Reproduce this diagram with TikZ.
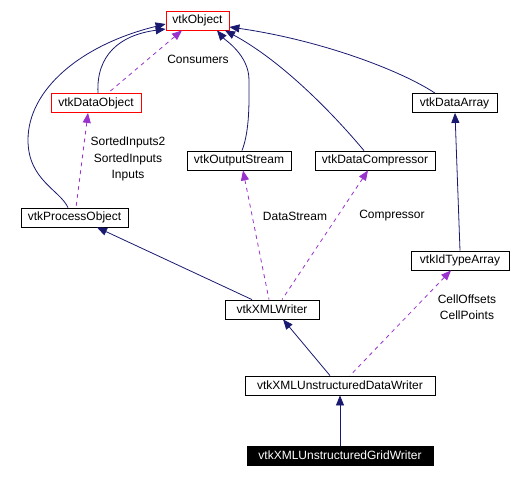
\documentclass[tikz,border=0pt]{standalone}
\usepackage{fontspec}
\setmainfont{Liberation Sans}
\usepackage{xcolor}
\usepackage{tikz}
\usetikzlibrary{arrows.meta, positioning, calc}

\definecolor{inhblue}{HTML}{191970}
\definecolor{usepurple}{HTML}{9A32CD}

\begin{document}
\begin{tikzpicture}[
    x=1pt, y=-1pt,
    cls/.style={rectangle, draw=black, line width=0.8pt, minimum height=19pt, inner xsep=4pt, inner ysep=0pt, text centered, font=\fontsize{12}{14}\selectfont},
    redcls/.style={cls, draw=red},
    curcls/.style={cls, fill=black, text=white},
    lbl/.style={font=\fontsize{12}{16.3}\selectfont, inner sep=0pt, align=center},
    inherit/.style={{Triangle[length=10pt,width=8pt]}-, draw=inhblue, line width=0.8pt},
    uses/.style={{Triangle[length=10pt,width=8pt]}-, draw=usepurple, dashed, dash pattern=on 4pt off 4pt, line width=0.8pt}
]
\useasboundingbox (0,0) rectangle (512,477);

% --- Top: base class ---
\node[redcls, minimum width=63pt] (obj) at (197.5,20.5) {vtkObject};

% --- Second row ---
\node[redcls, minimum width=90pt] (dataobj) at (96,103) {vtkDataObject};
\node[cls, minimum width=85pt] (dataarr) at (454.5,103) {vtkDataArray};

% --- Third row ---
\node[cls, minimum width=104pt] (outstream) at (239,160.5) {vtkOutputStream};
\node[cls, minimum width=120pt] (compressor) at (375,160.5) {vtkDataCompressor};

% --- Fourth row ---
\node[cls, minimum width=107pt] (procobj) at (74.5,217.5) {vtkProcessObject};
\node[cls, minimum width=98pt] (idarr) at (460,260.5) {vtkIdTypeArray};

% --- Writers ---
\node[cls, minimum width=94pt] (xmlw) at (272,309.5) {vtkXMLWriter};
\node[cls, minimum width=190pt] (udw) at (340,385.5) {vtkXMLUnstructuredDataWriter};
\node[curcls, minimum width=186pt] (ugw) at (340,455.5) {vtkXMLUnstructuredGridWriter};

% --- Edge labels ---
\node[lbl] (lblcons) at (198,59) {Consumers};
\node[lbl] (lblinputs) at (128,159) {SortedInputs2\\SortedInputs\\Inputs};
\node[lbl] (lblstream) at (295,216) {DataStream};
\node[lbl] (lblcomp) at (392,216) {Compressor};
\node[lbl] (lblcell) at (467,307.5) {CellOffsets\\CellPoints};

% --- Inheritance ---
\draw[inherit] (obj.west |- 0,24) .. controls (80,45) and (28,90) .. (28,140)
    .. controls (28,180) and (60,190) .. (procobj.north -| 68,0);
\draw[inherit] (obj.west |- 0,29) .. controls (120,35) and (96,55) .. (dataobj.north -| 98,0);
\draw[inherit] (obj.south -| 217,0) .. controls (225,40) and (249,55) .. (249,80)
    .. controls (249,100) and (250,130) .. (outstream.north -| 242,0);
\draw[inherit] (obj.south -| 225,0) .. controls (280,60) and (330,110) .. (compressor.north -| 364,0);
\draw[inherit] (obj.east |- 0,27) .. controls (320,40) and (400,70) .. (dataarr.north -| 435,0);
\draw[inherit] (dataarr.south -| 455,0) -- (idarr.north);
\draw[inherit] (procobj.south -| 97,0) -- (xmlw.north -| 252,0);
\draw[inherit] (xmlw.south -| 283,0) -- (udw.north -| 330,0);
\draw[inherit] (udw) -- (ugw);

% --- Usage (dashed) ---
\draw[uses] (obj.south -| 182,0) -- (dataobj.north -| 108,0);
\draw[uses] (dataobj.south -| 88,0) -- (procobj.north -| 76,0);
\draw[uses] (outstream.south -| 243,0) -- (xmlw.north -| 269,0);
\draw[uses] (compressor.south -| 368,0) -- (xmlw.north -| 282,0);
\draw[uses] (idarr.south -| 451,0) -- (udw.north -| 350,0);

\end{tikzpicture}
\end{document}
